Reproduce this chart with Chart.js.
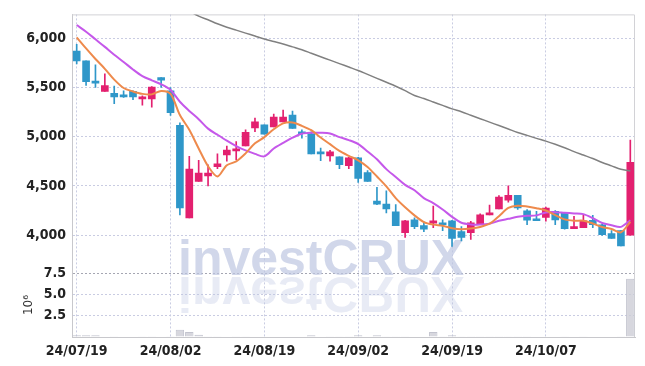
<!DOCTYPE html>
<html>
<head>
<meta charset="utf-8">
<script src="https://cdn.jsdelivr.net/npm/chart.js@4.4.1/dist/chart.umd.min.js"></script>
<style>
  html, body { margin: 0; padding: 0; background: #fff; }
  #wrap { width: 645px; height: 366px; }
</style>
</head>
<body>
<div id="wrap"><canvas id="chart" width="645" height="366"></canvas></div>
<script>
// daily candles, 24/07/19 .. 24/10/21
const dates = ['24/07/19','24/07/22','24/07/23','24/07/24','24/07/25','24/07/26','24/07/29','24/07/30','24/07/31','24/08/01',
  '24/08/02','24/08/05','24/08/06','24/08/07','24/08/08','24/08/09','24/08/12','24/08/13','24/08/14','24/08/16',
  '24/08/19','24/08/20','24/08/21','24/08/22','24/08/23','24/08/26','24/08/27','24/08/28','24/08/29','24/08/30',
  '24/09/02','24/09/03','24/09/04','24/09/05','24/09/06','24/09/09','24/09/10','24/09/11','24/09/12','24/09/13',
  '24/09/19','24/09/20','24/09/23','24/09/24','24/09/25','24/09/26','24/09/27','24/09/30','24/10/02','24/10/04',
  '24/10/07','24/10/08','24/10/10','24/10/11','24/10/14','24/10/15','24/10/16','24/10/17','24/10/18','24/10/21'];

const openP = [5870,5770,5565,5460,5440,5420,5460,5385,5385,5600,
  5465,5115,4175,4545,4600,4695,4815,4855,4905,5090,
  5120,5100,5150,5220,5050,5030,4840,4805,4795,4705,
  4785,4635,4345,4315,4235,4025,4155,4095,4120,4115,
  4145,4035,4025,4105,4205,4265,4355,4405,4245,4155,
  4180,4240,4225,4065,4075,4150,4105,4015,4045,4000];
const highP = [5940,5770,5730,5640,5515,5465,5465,5415,5510,5600,
  5500,5140,4800,4760,4715,4825,4905,4950,5070,5190,
  5120,5230,5270,5260,5070,5050,4885,4860,4795,4790,
  4790,4655,4485,4450,4310,4150,4175,4135,4295,4155,
  4150,4085,4140,4215,4305,4400,4500,4405,4260,4240,
  4285,4250,4230,4190,4200,4200,4110,4045,4045,4965];
const lowP = [5740,5520,5500,5460,5335,5400,5375,5320,5300,5500,
  5215,4205,4175,4545,4500,4675,4750,4765,4905,5050,
  5025,5100,5150,5085,4985,4825,4755,4750,4675,4675,
  4535,4545,4310,4225,4095,3975,4065,4035,4075,4045,
  3885,3940,3955,4105,4205,4265,4335,4260,4105,4145,
  4140,4105,4060,4065,4075,4075,3995,3965,3890,4000];
const closeP = [5770,5560,5545,5520,5405,5405,5405,5405,5505,5575,
  5245,4275,4670,4630,4630,4725,4865,4875,5045,5150,
  5025,5200,5200,5085,5030,4825,4825,4845,4715,4785,
  4575,4545,4315,4265,4095,4145,4085,4060,4145,4105,
  3965,3975,4125,4205,4215,4385,4405,4275,4150,4145,
  4275,4155,4065,4075,4145,4105,4005,3965,3890,4740];

// volume, millions of shares
const volume = [0.2,0.2,0.2,0.05,0.1,0.05,0.05,0.1,0.1,0.05,
  0.1,0.85,0.6,0.25,0.1,0.1,0.05,0.1,0.1,0.05,
  0.05,0.05,0.05,0.05,0.05,0.2,0.05,0.1,0.1,0.1,
  0.2,0.05,0.2,0.1,0.1,0.1,0.05,0.05,0.6,0.1,
  0.2,0.1,0.1,0.1,0.1,0.1,0.1,0.1,0.1,0.05,
  0.05,0.05,0.1,0.05,0.1,0.05,0.05,0.05,0.1,6.85];

// moving averages
const ma5 = [6010,5897,5790,5690,5580,5495,5460,5435,5430,5465,
  5435,5220,5070,4880,4700,4595,4710,4748,4830,4932,
  4995,5075,5135,5145,5110,5066,4992,4924,4855,4805,
  4760,4692,4595,4495,4375,4282,4200,4132,4106,4095,
  4070,4058,4066,4082,4115,4192,4275,4298,4290,4273,
  4250,4203,4159,4146,4146,4118,4081,4062,4028,4135];
const ma20 = [6135,6067,5990,5913,5833,5760,5683,5616,5573,5533,
  5475,5355,5262,5178,5082,5020,4960,4905,4860,4825,
  4800,4880,4937,4990,5030,5040,5040,5033,4995,4965,
  4925,4850,4770,4670,4590,4510,4455,4375,4325,4260,
  4185,4125,4108,4106,4115,4145,4165,4185,4195,4200,
  4230,4233,4226,4220,4213,4172,4122,4100,4083,4150];
const ma60 = [null,null,null,null,null,null,null,null,null,null,
  null,null,6275,6226,6188,6148,6113,6083,6053,6023,
  5993,5968,5943,5913,5883,5848,5813,5778,5743,5708,
  5673,5633,5593,5553,5513,5468,5418,5388,5353,5318,
  5283,5253,5218,5183,5148,5113,5078,5043,5013,4983,
  4955,4923,4888,4848,4813,4778,4738,4703,4668,4650];

const priceTicks = [4000, 4500, 5000, 5500, 6000];
const volumeTicks = [0, 2.5, 5.0, 7.5];

const UP = '#e3206f';
const DOWN = '#2f97c9';
const GRID = '#c9cce2';
const FONT = "'Liberation Sans Narrow', 'DejaVu Sans Condensed', sans-serif";

const candleColors = closeP.map((c, i) => c >= openP[i] ? UP : DOWN);
const wicks = dates.map((d, i) => [lowP[i], highP[i]]);
const bodies = dates.map((d, i) => [openP[i], closeP[i]]);

// watermark + top/right frame
const decor = {
  id: 'decor',
  beforeDatasetsDraw(chart) {
    const ctx = chart.ctx;
    const a = chart.chartArea;
    ctx.save();
    ctx.font = "bold 50px 'Liberation Sans', sans-serif";
    ctx.fillStyle = 'rgba(190,198,225,0.7)';
    ctx.fillText('investCRUX', 178, 275);
    ctx.translate(0, 552);
    ctx.scale(1, -1);
    ctx.fillStyle = 'rgba(190,198,225,0.35)';
    ctx.fillText('investCRUX', 178, 275);
    ctx.restore();

    ctx.save();
    ctx.strokeStyle = '#d2d2d6';
    ctx.lineWidth = 1;
    ctx.beginPath();
    ctx.moveTo(a.left, a.top + 0.5);
    ctx.lineTo(a.right - 0.5, a.top + 0.5);
    ctx.lineTo(a.right - 0.5, a.bottom);
    ctx.stroke();
    ctx.restore();
  }
};

new Chart(document.getElementById('chart'), {
  type: 'bar',
  data: {
    labels: dates,
    datasets: [
      { type: 'line', data: ma5, yAxisID: 'y', borderColor: '#ee8a4c', borderWidth: 2,
        pointRadius: 0, tension: 0.3, order: 0 },
      { type: 'line', data: ma20, yAxisID: 'y', borderColor: '#c558ea', borderWidth: 2,
        pointRadius: 0, tension: 0.3, order: 0 },
      { type: 'line', data: ma60, yAxisID: 'y', borderColor: '#808080', borderWidth: 1.5,
        pointRadius: 0, tension: 0.3, order: 0 },
      { data: bodies, yAxisID: 'y', backgroundColor: candleColors, barThickness: 7,
        minBarLength: 2, grouped: false, order: 1 },
      { data: wicks, yAxisID: 'y', backgroundColor: candleColors, barThickness: 1,
        grouped: false, order: 2 },
      { data: volume, yAxisID: 'yVol', backgroundColor: 'rgba(205,205,214,0.8)',
        borderColor: '#c2c3ce', borderWidth: 1, barPercentage: 0.9, categoryPercentage: 1,
        grouped: false, order: 3 }
    ]
  },
  options: {
    responsive: false,
    animation: false,
    devicePixelRatio: 1,
    layout: { padding: { top: 9, right: 10, left: 0, bottom: 0 } },
    plugins: { legend: { display: false }, tooltip: { enabled: false } },
    scales: {
      x: {
        type: 'category',
        offset: true,
        grid: { offset: false, drawTicks: false,
          color: c => c.index % 10 === 0 ? GRID : 'rgba(0,0,0,0)' },
        border: { display: true, color: '#c8c8cc', dash: [2, 2] },
        ticks: {
          autoSkip: false, maxRotation: 0, padding: 6, color: '#222',
          font: { family: FONT, size: 14, weight: 'bold' },
          callback: function(v, i) { return i % 10 === 0 ? this.getLabelForValue(v) : ''; }
        },
        afterFit: s => { s.height = 29; }
      },
      yVol: {
        position: 'left', stack: 'main', stackWeight: 1,
        min: 0, max: 7.5,
        afterBuildTicks: s => { s.ticks = volumeTicks.map(v => ({ value: v })); },
        grid: { drawTicks: false,
          color: c => c.tick.value === 7.5 ? '#a5a6b2' : (c.tick.value === 0 ? 'rgba(0,0,0,0)' : GRID) },
        border: { display: true, color: '#c8c8cc', dash: [2, 2] },
        ticks: {
          autoSkip: false, padding: 6, color: '#222',
          font: { family: FONT, size: 14, weight: 'bold' },
          callback: v => v === 0 ? '' : v.toFixed(1)
        },
        title: { display: true, text: '10⁶', color: '#333',
          font: { family: "'DejaVu Sans', sans-serif", size: 12 }, padding: { top: 22, bottom: 0 } },
        afterFit: s => { s.width = 72; }
      },
      y: {
        position: 'left', stack: 'main', stackWeight: 4.05,
        min: 3613, max: 6243,
        afterBuildTicks: s => { s.ticks = priceTicks.map(v => ({ value: v })); },
        grid: { drawTicks: false, color: GRID },
        border: { display: true, color: '#c8c8cc', dash: [2, 2] },
        ticks: {
          autoSkip: false, padding: 6, color: '#222',
          font: { family: FONT, size: 14, weight: 'bold' },
          callback: v => v.toLocaleString('en-US')
        },
        afterFit: s => { s.width = 72; }
      }
    }
  },
  plugins: [decor]
});
</script>
</body>
</html>
